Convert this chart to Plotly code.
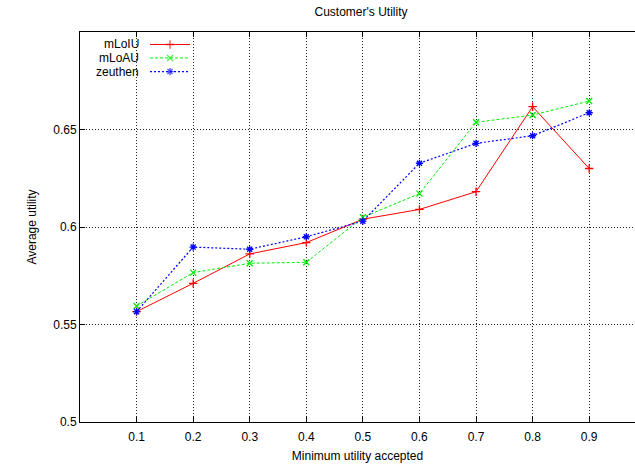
import plotly.graph_objects as go

# Minimum utility accepted (x) and average utility per strategy
min_utility = [0.1, 0.2, 0.3, 0.4, 0.5, 0.6, 0.7, 0.8, 0.9]
mloiu = [0.5566, 0.5711, 0.5862, 0.5920, 0.6040, 0.6090, 0.6181, 0.6617, 0.6300]
mloau = [0.5595, 0.5766, 0.5814, 0.5819, 0.6050, 0.6171, 0.6537, 0.6574, 0.6646]
zeuthen = [0.5566, 0.5897, 0.5886, 0.5950, 0.6030, 0.6327, 0.6429, 0.6468, 0.6586]

series_names = ["mLoIU", "mLoAU", "zeuthen"]
series_values = [mloiu, mloau, zeuthen]
colors = ["#ff0000", "#00ee00", "#0000ff"]
dashes = ["solid", "3px,2px", "2px,2px"]
widths = [1, 1, 1.2]
symbols = ["cross-thin-open", "x-thin-open", "asterisk-open"]

x_ticks = [0.1, 0.2, 0.3, 0.4, 0.5, 0.6, 0.7, 0.8, 0.9]
y_ticks = [0.5, 0.55, 0.6, 0.65]

font_family = "Liberation Sans, Arial, sans-serif"

fig = go.Figure()

for name, vals, c, d, w, s in zip(series_names, series_values, colors, dashes, widths, symbols):
    fig.add_trace(go.Scatter(
        x=min_utility, y=vals, name=name, mode="lines+markers",
        line=dict(color=c, width=w, dash=d),
        marker=dict(symbol=s, size=6, color=c, line=dict(color=c, width=1.3)),
        showlegend=False, cliponaxis=False,
    ))

# Key in the top-left corner: label on the left, line sample on the right
key_rows = [0.968, 0.9335, 0.8985]
for name, c, d, w, s, ky in zip(series_names, colors, dashes, widths, symbols, key_rows):
    fig.add_trace(go.Scatter(
        x=[0.1261, 0.1622, 0.1982], y=[ky, ky, ky],
        xaxis="x2", yaxis="y2", mode="lines+markers",
        line=dict(color=c, width=w, dash=d),
        marker=dict(symbol=s, size=[0, 6, 0], color=c, line=dict(color=c, width=1.3)),
        showlegend=False, hoverinfo="skip",
    ))
    fig.add_annotation(
        x=0.1105, y=ky, xref="x2", yref="y2", text=name, showarrow=False,
        xanchor="right", yanchor="middle",
        font=dict(family=font_family, size=12, color="#000"),
    )

fig.update_layout(
    width=635, height=466,
    margin=dict(l=80, r=0, t=32, b=44),
    paper_bgcolor="white", plot_bgcolor="white",
    font=dict(family=font_family, size=12, color="#000"),
    title=dict(
        text="Customer's Utility", x=361 / 635, xref="container", xanchor="center",
        y=1 - 12 / 466, yref="container", yanchor="middle",
        font=dict(family=font_family, size=12, color="#000"),
    ),
    xaxis=dict(
        range=[0, 0.981], tickvals=x_ticks, ticktext=[str(v) for v in x_ticks],
        ticks="inside", ticklen=5, tickcolor="#000", mirror="ticks",
        ticklabelstandoff=4,
        showline=True, linecolor="#000", linewidth=1,
        showgrid=True, gridcolor="#222", griddash="1px,2px", gridwidth=1,
        zeroline=False,
        title=dict(text="Minimum utility accepted", standoff=8,
                   font=dict(family=font_family, size=12)),
        tickfont=dict(family=font_family, size=12),
    ),
    yaxis=dict(
        range=[0.5, 0.7], tickvals=y_ticks, ticktext=["0.5", "0.55", "0.6", "0.65"],
        ticks="inside", ticklen=5, tickcolor="#000",
        showline=True, linecolor="#000", linewidth=1,
        showgrid=True, gridcolor="#222", griddash="1px,2px", gridwidth=1,
        zeroline=False,
        title=dict(text="Average utility", standoff=14,
                   font=dict(family=font_family, size=12)),
        tickfont=dict(family=font_family, size=12),
    ),
    xaxis2=dict(overlaying="x", range=[0, 1], visible=False, fixedrange=True),
    yaxis2=dict(overlaying="y", range=[0, 1], visible=False, fixedrange=True),
)

fig.write_html("out.html")
